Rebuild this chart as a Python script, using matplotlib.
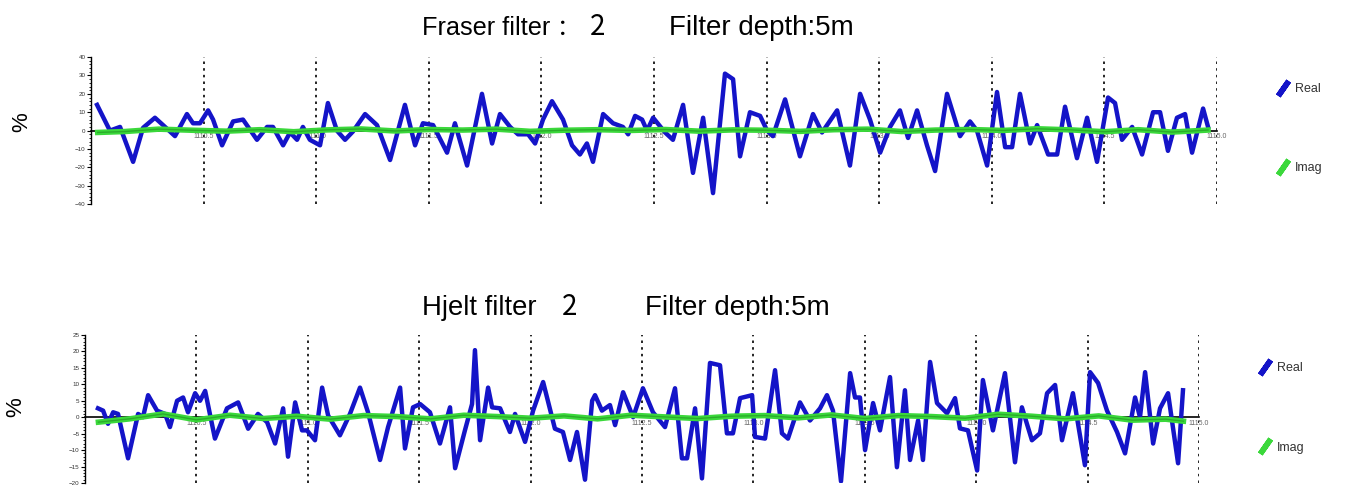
import matplotlib
matplotlib.use("Agg")
import matplotlib.pyplot as plt
from matplotlib.lines import Line2D
from matplotlib.ticker import MultipleLocator, AutoMinorLocator

plt.rcParams["font.family"] = ["Liberation Sans", "DejaVu Sans"]

# ---- station positions shared by both profiles (m) ----
grid_ticks = [1110.5, 1111.0, 1111.5, 1112.0, 1112.5, 1113.0, 1113.5, 1114.0, 1114.5, 1115.0]
grid_labels = ["1110.5", "1111.0", "1111.5", "1112.0", "1112.5",
               "1113.0", "1113.5", "1114.0", "1114.5", "1115.0"]

# ---- Fraser filter, real part (%) ----
fraser_x = [
    1110.027, 1110.084, 1110.129, 1110.187, 1110.231, 1110.284, 1110.320, 1110.373, 1110.426, 1110.453,
    1110.484, 1110.520, 1110.542, 1110.582, 1110.631, 1110.675, 1110.737, 1110.782, 1110.808, 1110.853,
    1110.884, 1110.915, 1110.941, 1110.972, 1111.017, 1111.052, 1111.092, 1111.128, 1111.163, 1111.217,
    1111.270, 1111.328, 1111.394, 1111.439, 1111.474, 1111.519, 1111.581, 1111.616, 1111.670, 1111.736,
    1111.781, 1111.816, 1111.861, 1111.896, 1111.941, 1111.972, 1112.007, 1112.047, 1112.096, 1112.136,
    1112.171, 1112.202, 1112.229, 1112.274, 1112.318, 1112.362, 1112.385, 1112.416, 1112.447, 1112.469,
    1112.496, 1112.549, 1112.584, 1112.629, 1112.673, 1112.718, 1112.762, 1112.815, 1112.851, 1112.882,
    1112.926, 1112.971, 1113.002, 1113.028, 1113.082, 1113.148, 1113.206, 1113.246, 1113.313, 1113.370,
    1113.415, 1113.459, 1113.504, 1113.548, 1113.592, 1113.628, 1113.668, 1113.712, 1113.748, 1113.801,
    1113.859, 1113.903, 1113.934, 1113.979, 1114.023, 1114.059, 1114.090, 1114.125, 1114.170, 1114.201,
    1114.250, 1114.290, 1114.325, 1114.378, 1114.423, 1114.467, 1114.516, 1114.547, 1114.578, 1114.623,
    1114.667, 1114.716, 1114.747, 1114.782, 1114.822, 1114.858, 1114.889, 1114.938, 1114.960,
]
fraser_real = [
    14, 0, 2, -17, 1.5, 7, 3, -3, 9, 4,
    4, 11, 6, -8, 5, 6, -5, 2, 2, -8,
    -1, -5, 2, -5, -8, 15, 0, -5, -0.5, 9,
    3, -16, 14, -8, 4, 3, -12, 4, -19, 20,
    -7, 9, 2, -2, -2, -7, 6, 16, 6, -8,
    -13, -7, -17, 9, 4, 2, -2, 8, 6, 0,
    7, -1, -5, 14, -23, 7, -34, 31, 28, -14,
    10, 8, 0, -3, 17, -14, 9, -1, 11, -19,
    20, 6, -12, 2, 11, -4, 11, -8, -22, 20,
    -3, 5, 0, -19, 21, -9, -9, 20, -7, 3,
    -13, -13, 13, -15, 7, -17, 18, 15, -5, 2,
    -13, 10, 10, -11, 7, 9, -12, 12, 2,
]

# ---- Fraser filter, imaginary part (%) ----
fraser_imag_x = [
    1110.03, 1110.15, 1110.30, 1110.45, 1110.60, 1110.75, 1110.90, 1111.05, 1111.20, 1111.35,
    1111.50, 1111.65, 1111.80, 1111.95, 1112.10, 1112.25, 1112.40, 1112.55, 1112.70, 1112.85,
    1113.00, 1113.15, 1113.30, 1113.45, 1113.60, 1113.75, 1113.90, 1114.05, 1114.20, 1114.35,
    1114.50, 1114.65, 1114.80, 1114.96,
]
fraser_imag = [
    -1.0, -0.5, 0.8, 0.2, -0.3, 0.5, -0.6, 0.4, 0.9, -0.2,
    0.6, 0.3, 0.8, -0.4, 0.2, 0.5, 0.1, 0.6, -0.3, 0.4,
    0.2, -0.4, 0.5, 0.8, -0.5, 0.3, 0.6, 0.1, 1.0, 0.4,
    -0.6, 0.5, -0.8, 0.3,
]

# ---- Hjelt filter, real part (%) ----
hjelt_x = [
    1110.058, 1110.081, 1110.103, 1110.126, 1110.148, 1110.193, 1110.238, 1110.260, 1110.283, 1110.323,
    1110.359, 1110.381, 1110.413, 1110.440, 1110.462, 1110.494, 1110.516, 1110.539, 1110.583, 1110.637,
    1110.687, 1110.732, 1110.776, 1110.817, 1110.853, 1110.889, 1110.911, 1110.943, 1110.974, 1110.996,
    1111.032, 1111.064, 1111.091, 1111.144, 1111.189, 1111.234, 1111.270, 1111.324, 1111.360, 1111.414,
    1111.436, 1111.472, 1111.504, 1111.548, 1111.593, 1111.638, 1111.661, 1111.705, 1111.737, 1111.750,
    1111.773, 1111.809, 1111.827, 1111.863, 1111.907, 1111.930, 1111.975, 1112.011, 1112.056, 1112.109,
    1112.145, 1112.177, 1112.208, 1112.244, 1112.276, 1112.289, 1112.320, 1112.356, 1112.379, 1112.415,
    1112.460, 1112.504, 1112.549, 1112.603, 1112.648, 1112.679, 1112.702, 1112.738, 1112.769, 1112.805,
    1112.850, 1112.881, 1112.908, 1112.940, 1112.994, 1113.007, 1113.052, 1113.097, 1113.128, 1113.155,
    1113.209, 1113.254, 1113.299, 1113.330, 1113.357, 1113.393, 1113.434, 1113.456, 1113.478, 1113.501,
    1113.537, 1113.568, 1113.613, 1113.644, 1113.680, 1113.703, 1113.739, 1113.761, 1113.793, 1113.824,
    1113.869, 1113.905, 1113.927, 1113.963, 1114.004, 1114.030, 1114.075, 1114.129, 1114.174, 1114.205,
    1114.250, 1114.286, 1114.318, 1114.354, 1114.385, 1114.434, 1114.488, 1114.511, 1114.547, 1114.587,
    1114.632, 1114.668, 1114.713, 1114.735, 1114.758, 1114.794, 1114.825, 1114.861, 1114.906, 1114.928,
]
hjelt_real = [
    2.7, 2, -2, 1.5, 1, -12.5, 1, 0, 6.7, 2,
    1, -3, 5, 6, 1.5, 7.3, 5, 8, -6.5, 2.7,
    4.5, -3.5, 1, -1.5, -8, 2.7, -12, 4.5, -4, -4,
    -7, 9, 0.5, -5.5, 1, 9, 1.5, -13, -3, 9,
    -9.5, 3, 4, 1.5, -8, 3, -15.5, -4, 4, 20.4,
    -7, 9, 3, 2.7, -4.5, 1, -7.5, 2, 10.7, -3.5,
    -4.5, -13, -4.5, -19, 5, 6.7, 2, 3.7, -2.4, 7.6,
    0, 8.8, 1.5, -3, 8.8, -12.5, -12.5, 2.7, -18.6, 16.5,
    15.8, -4.9, -4.9, 5.8, 6.7, -6, -6.5, 14.3, -4.9, -6.5,
    4.5, -1, 2.7, 6.7, 2, -19.5, 13.4, 6, 6, -10,
    4.3, -4, 12.2, -15.2, 8.2, -13, -1, -13, 16.8, 4.3,
    1.2, 5.8, -3.4, -4, -16.2, 11.3, -4, 13.4, -13.7, 3,
    -7, -4.9, 7.3, 9.8, -7, 7.3, -14.6, 13.7, 10.4, 2,
    -4.5, -11, 6, 0, 13.7, -8, 2.7, 7.3, -14, 8.2,
]

# ---- Hjelt filter, imaginary part (%) ----
hjelt_imag_x = [
    1110.06, 1110.20, 1110.35, 1110.50, 1110.65, 1110.80, 1110.95, 1111.10, 1111.25, 1111.40,
    1111.55, 1111.70, 1111.85, 1112.00, 1112.15, 1112.30, 1112.45, 1112.60, 1112.75, 1112.90,
    1113.05, 1113.20, 1113.35, 1113.50, 1113.65, 1113.80, 1113.95, 1114.10, 1114.25, 1114.40,
    1114.55, 1114.70, 1114.85, 1114.93,
]
hjelt_imag = [
    -1.5, -0.5, 1.0, -0.8, 0.6, -0.4, 0.3, -0.6, 0.5, 0.2,
    -0.5, 0.6, 0.2, -0.3, 0.4, -0.5, 0.6, 0.1, -0.4, 0.3,
    0.5, -0.2, 0.7, -0.4, 0.5, 0.2, -0.3, 0.9, 0.3, -0.5,
    0.4, -0.9, -0.6, -1.2,
]

REAL_COLOR = "#1414c8"
IMAG_COLOR = "#3bd83b"

fig = plt.figure(figsize=(13.46, 4.86), dpi=100)

panels = [
    # (axes rect, x, real, imag_x, imag, ylim, major step)
    ([0.0676, 0.580, 0.8366, 0.3025], fraser_x, fraser_real, fraser_imag_x, fraser_imag, (-40, 40), 10),
    ([0.0632, 0.0062, 0.8276, 0.3045], hjelt_x, hjelt_real, hjelt_imag_x, hjelt_imag, (-20, 25), 5),
]

axes = []
for rect, x, real, ix, imag, ylim, step in panels:
    ax = fig.add_axes(rect)
    ax.plot(x, real, color=REAL_COLOR, lw=3.2, solid_joinstyle="round", zorder=2.6)
    ax.plot(ix, imag, color=IMAG_COLOR, lw=4.0, zorder=2.7)
    ax.plot(ix, imag, color="#1f8f1f", lw=1.0, alpha=0.6, zorder=2.8)

    ax.set_xlim(1110.0, 1115.0)
    ax.set_ylim(*ylim)
    ax.set_xticks(grid_ticks)
    ax.set_xticklabels(grid_labels)
    ax.yaxis.set_major_locator(MultipleLocator(step))
    ax.yaxis.set_minor_locator(AutoMinorLocator(5))

    for side in ("top", "right"):
        ax.spines[side].set_visible(False)
    ax.spines["bottom"].set_position(("data", 0))
    ax.spines["bottom"].set_linewidth(1.2)
    ax.spines["left"].set_linewidth(1.0)

    ax.tick_params(axis="x", length=0, pad=2, labelsize=5, labelcolor="#666666")
    ax.tick_params(axis="y", which="major", length=3, width=0.8, labelsize=4.5,
                   labelcolor="#333333", pad=1)
    ax.tick_params(axis="y", which="minor", length=1.5, width=0.6)

    ax.grid(axis="x", color="black", linestyle=(0, (1.5, 2.5)), lw=1.2)
    ax.set_axisbelow(True)
    axes.append(ax)

# y-axis units
fig.text(22 / 1346, 1 - 122 / 486, "%", rotation=90, fontsize=16, ha="center", va="center")
fig.text(16 / 1346, 1 - 407 / 486, "%", rotation=90, fontsize=16, ha="center", va="center")

# panel titles
cjk = ["Noto Sans CJK SC", "DejaVu Sans"]
fig.text(422 / 1346, 1 - 35 / 486, "Fraser filter", fontsize=18.2, va="baseline")
fig.text(557 / 1346, 1 - 35 / 486, "：", fontsize=16.5, va="baseline", family=cjk)
fig.text(590 / 1346, 1 - 35 / 486, "2", fontsize=20, va="baseline", family=cjk)
fig.text(669 / 1346, 1 - 35 / 486, "Filter depth:5m", fontsize=20, va="baseline")

fig.text(422 / 1346, 1 - 315 / 486, "Hjelt filter", fontsize=19.8, va="baseline")
fig.text(562 / 1346, 1 - 315 / 486, "2", fontsize=20, va="baseline", family=cjk)
fig.text(645 / 1346, 1 - 315 / 486, "Filter depth:5m", fontsize=20, va="baseline")

# legends: short slanted strokes next to each label
handles = [
    Line2D([], [], linestyle="none", marker=(2, 2, -35), markersize=13,
           markeredgewidth=4, markeredgecolor=REAL_COLOR, label="Real"),
    Line2D([], [], linestyle="none", marker=(2, 2, -35), markersize=13,
           markeredgewidth=4, markeredgecolor=IMAG_COLOR, label="Imag"),
]
for anchor in [(1277 / 1346, 1 - 83 / 486), (1259 / 1346, 1 - 362 / 486)]:
    fig.legend(handles=handles, loc="upper left", bbox_to_anchor=anchor, frameon=False,
               fontsize=9, labelspacing=5.4, handlelength=1.0, handletextpad=0.4,
               borderpad=0, borderaxespad=0, labelcolor="#333333")

fig.savefig("out.png", dpi=100, facecolor="white")
